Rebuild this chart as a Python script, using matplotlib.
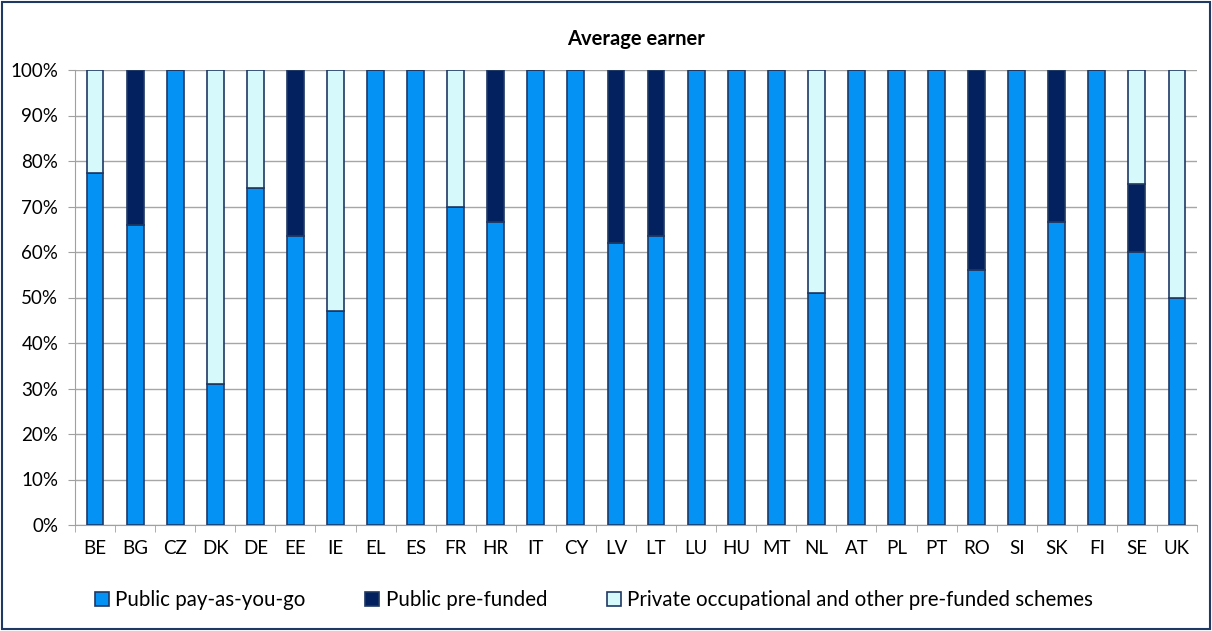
import matplotlib.pyplot as plt
import numpy as np
from matplotlib.patches import Rectangle

countries = ["BE", "BG", "CZ", "DK", "DE", "EE", "IE", "EL", "ES", "FR", "HR", "IT", "CY", "LV",
             "LT", "LU", "HU", "MT", "NL", "AT", "PL", "PT", "RO", "SI", "SK", "FI", "SE", "UK"]
public_payg = [77.3, 66, 100, 31, 74, 63.5, 47, 100, 100, 70, 66.5, 100, 100, 62,
               63.5, 100, 100, 100, 51, 100, 100, 100, 56, 100, 66.5, 100, 60, 50]
public_funded = [0, 34, 0, 0, 0, 36.5, 0, 0, 0, 0, 33.5, 0, 0, 38,
                 36.5, 0, 0, 0, 0, 0, 0, 0, 44, 0, 33.5, 0, 15, 0]
private_funded = [22.7, 0, 0, 69, 26, 0, 53, 0, 0, 30, 0, 0, 0, 0,
                  0, 0, 0, 0, 49, 0, 0, 0, 0, 0, 0, 0, 25, 50]

labels = ["Public pay-as-you-go", "Public pre-funded",
          "Private occupational and other pre-funded schemes"]
colors = ["#0592F5", "#03215E", "#D6FAFC"]
edge = "#1F3864"

plt.rcParams['font.family'] = ['Lato', 'DejaVu Sans']

fig = plt.figure(figsize=(12.12, 6.31), dpi=100)
ax = fig.add_axes([75 / 1212, (631 - 525) / 631, 1122 / 1212, 455 / 631])

x = np.arange(len(countries))
a = np.array(public_payg)
b = np.array(public_funded)
c = np.array(private_funded)
w = 0.42
ax.bar(x, a, w, color=colors[0], edgecolor=edge, linewidth=1.2, label=labels[0], zorder=3)
ax.bar(x, b, w, bottom=a, color=colors[1], edgecolor=edge, linewidth=1.2, label=labels[1], zorder=3)
ax.bar(x, c, w, bottom=a + b, color=colors[2], edgecolor=edge, linewidth=1.2, label=labels[2], zorder=3)

ax.set_xlim(-0.5, len(countries) - 0.5)
ax.set_ylim(0, 100)
ax.set_yticks(np.arange(0, 101, 10))
ax.set_yticklabels([f"{v}%" for v in range(0, 101, 10)])
ax.set_xticks(x)
ax.set_xticklabels(countries)
ax.set_xticks(np.arange(-0.5, len(countries), 1), minor=True)
ax.tick_params(axis='x', which='major', length=0, pad=11, labelsize=13.5)
ax.tick_params(axis='x', which='minor', length=5, color="#A0A0A0")
ax.tick_params(axis='y', length=5, color="#A0A0A0", labelsize=13.5, pad=7)
ax.grid(axis='y', color="#A6A6A6", linewidth=1, zorder=0)
for s in ["top", "right"]:
    ax.spines[s].set_visible(False)
for s in ["left", "bottom"]:
    ax.spines[s].set_color("#A0A0A0")

ax.set_title("Average earner", fontsize=14.5, fontweight='bold', pad=18)

fig.legend(loc='center', bbox_to_anchor=(0.49, (631 - 600) / 631), ncol=3,
           frameon=False, fontsize=14.8, handlelength=0.7, handleheight=0.7,
           handletextpad=0.3, columnspacing=2.9)

fig.patches.append(Rectangle((0.002, 0.003), 0.996, 0.994, transform=fig.transFigure,
                             fill=False, edgecolor="#203864", linewidth=1.5))

fig.savefig("out.png", dpi=100)
